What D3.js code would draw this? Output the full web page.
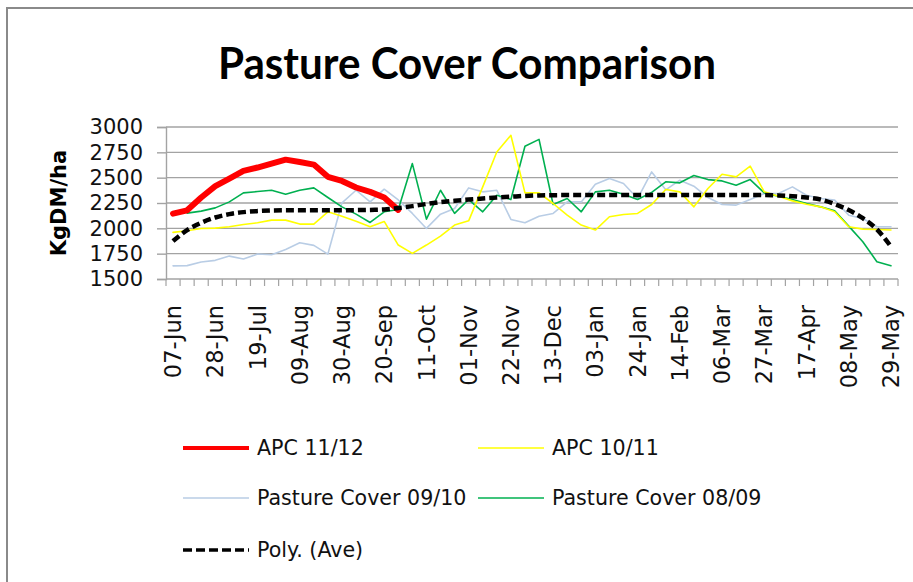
<!DOCTYPE html>
<html>
<head>
<meta charset="utf-8">
<script src="https://cdn.jsdelivr.net/npm/d3@7"></script>
<style>
  body { margin: 0; background: #fff; }
  svg { display: block; }
</style>
</head>
<body>
<div id="chart"></div>
<script>
// weekly dates, 07-Jun to 29-May
const weeks = [
  "07-Jun", "14-Jun", "21-Jun", "28-Jun", "05-Jul", "12-Jul", "19-Jul", "26-Jul",
  "02-Aug", "09-Aug", "16-Aug", "23-Aug", "30-Aug", "06-Sep", "13-Sep", "20-Sep",
  "27-Sep", "04-Oct", "11-Oct", "18-Oct", "25-Oct", "01-Nov", "08-Nov", "15-Nov",
  "22-Nov", "29-Nov", "06-Dec", "13-Dec", "20-Dec", "27-Dec", "03-Jan", "10-Jan",
  "17-Jan", "24-Jan", "31-Jan", "07-Feb", "14-Feb", "21-Feb", "28-Feb", "06-Mar",
  "13-Mar", "20-Mar", "27-Mar", "03-Apr", "10-Apr", "17-Apr", "24-Apr", "01-May",
  "08-May", "15-May", "22-May", "29-May"
];
const yTicks = [1500, 1750, 2000, 2250, 2500, 2750, 3000];

const apc1112 = [2145, 2178, 2304, 2416, 2491, 2567, 2600, 2639, 2678, 2655,
  2629, 2508, 2468, 2403, 2360, 2304, 2182];
const apc1011 = [1960, 1976, 1999, 2002, 2015, 2038, 2055, 2081, 2081, 2042,
  2042, 2163, 2120, 2071, 2015, 2068, 1835, 1753, 1835, 1923,
  2032, 2074, 2409, 2754, 2918, 2350, 2350, 2245, 2130, 2032,
  1983, 2114, 2137, 2147, 2235, 2383, 2360, 2212, 2393, 2534,
  2508, 2613, 2360, 2317, 2271, 2238, 2212, 2163, 2015, 1992,
  1989, 1983];
const pc0910 = [1630, 1632, 1667, 1684, 1726, 1697, 1746, 1740, 1792, 1858,
  1832, 1746, 2252, 2376, 2261, 2386, 2280, 2147, 1999, 2140,
  2196, 2399, 2360, 2376, 2088, 2055, 2120, 2147, 2261, 2261,
  2435, 2491, 2442, 2294, 2557, 2380, 2475, 2416, 2304, 2235,
  2229, 2284, 2343, 2343, 2409, 2327, 2294, 2278, 2130, 2097,
  2015, 2015];
const pc0809 = [null, 2150, 2170, 2202, 2261, 2350, 2363, 2376, 2337, 2376,
  2399, 2304, 2212, 2140, 2058, 2163, 2186, 2639, 2091, 2376,
  2147, 2284, 2163, 2327, 2284, 2810, 2878, 2235, 2294, 2163,
  2360, 2376, 2337, 2284, 2355, 2459, 2449, 2521, 2481, 2468,
  2426, 2481, 2350, 2317, 2284, 2245, 2212, 2173, 2022, 1868,
  1671, 1631];
const polyAve = [1874, 1982, 2055, 2107, 2140, 2160, 2170, 2176, 2178, 2178,
  2178, 2178, 2178, 2180, 2182, 2186, 2200, 2219, 2240, 2258,
  2272, 2284, 2294, 2304, 2312, 2320, 2325, 2327, 2328, 2328,
  2328, 2328, 2328, 2328, 2328, 2328, 2328, 2328, 2328, 2328,
  2328, 2328, 2328, 2325, 2317, 2304, 2284, 2240, 2180, 2100,
  1990, 1820];

const W = 913, H = 582;
const plot = { left: 166, right: 898, top: 127, bottom: 279 };

const svg = d3.select("#chart").append("svg")
  .attr("width", W)
  .attr("height", H);

// chart frame (only top and left edges are in view)
svg.append("path")
  .attr("d", `M7,${H} L7,8 L${W},8`)
  .attr("fill", "none")
  .attr("stroke", "#8a8a8a")
  .attr("stroke-width", 2);

svg.append("text")
  .attr("x", 467)
  .attr("y", 79)
  .attr("text-anchor", "middle")
  .attr("textLength", 498)
  .attr("lengthAdjust", "spacingAndGlyphs")
  .style("font-family", "Lato, 'DejaVu Sans Condensed', sans-serif")
  .style("font-weight", "bold")
  .style("font-size", "44px")
  .text("Pasture Cover Comparison");

const x = d3.scaleBand()
  .domain(weeks)
  .range([plot.left, plot.right])
  .padding(0);

const y = d3.scaleLinear()
  .domain([1500, 3000])
  .range([plot.bottom, plot.top]);

const cx = (d) => x(d) + x.bandwidth() / 2;

// gridlines
svg.append("g")
  .selectAll("line")
  .data(yTicks.slice(1))
  .enter().append("line")
  .attr("x1", plot.left)
  .attr("x2", plot.right)
  .attr("y1", (d) => y(d))
  .attr("y2", (d) => y(d))
  .attr("stroke", "#a3a3a3")
  .attr("stroke-width", 1.4);

// y axis
const yAxis = svg.append("g")
  .attr("transform", `translate(${plot.left},0)`)
  .call(d3.axisLeft(y).tickValues(yTicks).tickSize(9).tickPadding(14).tickFormat(d3.format("d")));
yAxis.select(".domain").attr("stroke", "#a3a3a3").attr("stroke-width", 1.4);
yAxis.selectAll(".tick line").attr("stroke", "#a3a3a3").attr("stroke-width", 1.4);
yAxis.selectAll(".tick text")
  .attr("fill", "#111")
  .style("font-family", "'DejaVu Sans', sans-serif")
  .style("font-size", "21px");

svg.append("text")
  .attr("transform", `translate(58,${(plot.top + plot.bottom) / 2}) rotate(-90)`)
  .attr("text-anchor", "middle")
  .attr("dy", "0.36em")
  .style("font-family", "'DejaVu Sans', sans-serif")
  .style("font-weight", "bold")
  .style("font-size", "21px")
  .text("KgDM/ha");

// x axis: ticks on category boundaries, labels every third week
const xAxis = svg.append("g");
xAxis.append("line")
  .attr("x1", plot.left)
  .attr("x2", plot.right)
  .attr("y1", plot.bottom)
  .attr("y2", plot.bottom)
  .attr("stroke", "#a3a3a3")
  .attr("stroke-width", 1.4);
xAxis.selectAll(".xtick")
  .data(weeks.concat([null]))
  .enter().append("line")
  .attr("class", "xtick")
  .attr("x1", (d) => d === null ? plot.right : x(d))
  .attr("x2", (d) => d === null ? plot.right : x(d))
  .attr("y1", plot.bottom)
  .attr("y2", plot.bottom + 7)
  .attr("stroke", "#a3a3a3")
  .attr("stroke-width", 1.2);
xAxis.selectAll(".xlabel")
  .data(weeks.filter((d, i) => i % 3 === 0))
  .enter().append("text")
  .attr("class", "xlabel")
  .attr("transform", (d) => `translate(${cx(d)},305) rotate(-90)`)
  .attr("text-anchor", "end")
  .attr("dy", "0.36em")
  .attr("fill", "#111")
  .style("font-family", "'DejaVu Sans', sans-serif")
  .style("font-size", "22.5px")
  .text((d) => d);

// series
const line = d3.line()
  .defined((d) => d != null)
  .x((d, i) => cx(weeks[i]))
  .y((d) => y(d));

const series = [
  { name: "Pasture Cover 09/10", values: pc0910, color: "#b9cde5", width: 1.6 },
  { name: "Pasture Cover 08/09", values: pc0809, color: "#00b050", width: 1.6 },
  { name: "APC 10/11", values: apc1011, color: "#ffff00", width: 1.6 },
  { name: "APC 11/12", values: apc1112, color: "#ff0000", width: 6 }
];

svg.selectAll(".series")
  .data(series)
  .enter().append("path")
  .attr("class", "series")
  .attr("d", (s) => line(s.values))
  .attr("fill", "none")
  .attr("stroke", (s) => s.color)
  .attr("stroke-width", (s) => s.width)
  .attr("stroke-linejoin", "round")
  .attr("stroke-linecap", "round");

svg.append("path")
  .attr("d", line.curve(d3.curveMonotoneX)(polyAve))
  .attr("fill", "none")
  .attr("stroke", "#000")
  .attr("stroke-width", 4.5)
  .attr("stroke-dasharray", "8,4");

// legend
const legendItems = [
  { name: "APC 11/12", color: "#ff0000", width: 4, dash: null, x: 183, y: 448 },
  { name: "APC 10/11", color: "#ffff00", width: 1.4, dash: null, x: 478, y: 448 },
  { name: "Pasture Cover 09/10", color: "#b9cde5", width: 1.4, dash: null, x: 183, y: 498 },
  { name: "Pasture Cover 08/09", color: "#00b050", width: 1.6, dash: null, x: 478, y: 498 },
  { name: "Poly. (Ave)", color: "#000", width: 3.5, dash: "9,4", x: 183, y: 550 }
];

const legend = svg.selectAll(".legend")
  .data(legendItems)
  .enter().append("g")
  .attr("class", "legend")
  .attr("transform", (d) => `translate(${d.x},${d.y})`);

legend.append("line")
  .attr("x1", 0)
  .attr("x2", 66)
  .attr("stroke", (d) => d.color)
  .attr("stroke-width", (d) => d.width)
  .attr("stroke-dasharray", (d) => d.dash);

legend.append("text")
  .attr("x", 74)
  .attr("dy", "0.36em")
  .attr("fill", "#111")
  .style("font-family", "'DejaVu Sans', sans-serif")
  .style("font-size", "20.6px")
  .text((d) => d.name);
</script>
</body>
</html>
